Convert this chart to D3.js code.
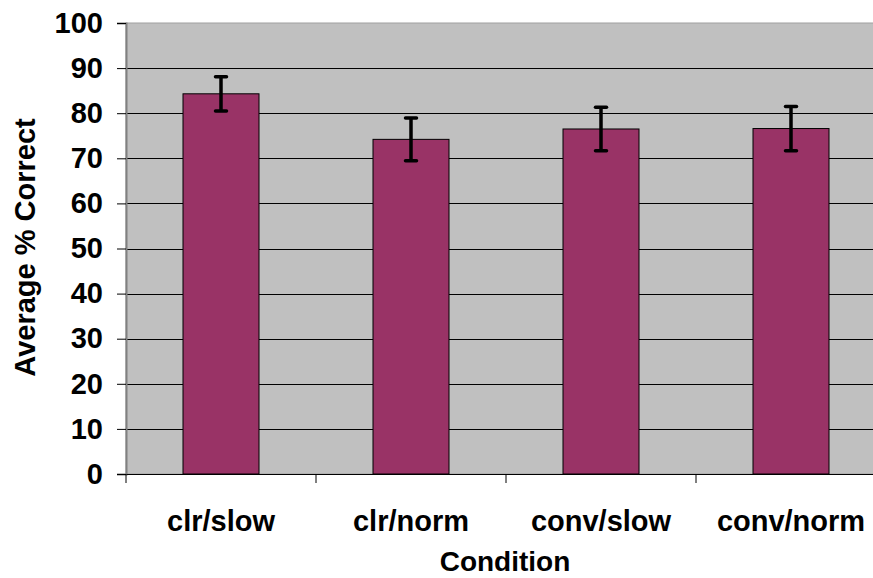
<!DOCTYPE html>
<html><head><meta charset="utf-8">
<script src="https://cdn.jsdelivr.net/npm/d3@7"></script>
<style>body{margin:0;background:#fff}svg{display:block}</style>
</head><body>
<svg id="c" width="873" height="578"></svg>
<script>
const categories = ["clr/slow", "clr/norm", "conv/slow", "conv/norm"];
const values = [84.3, 74.2, 76.5, 76.6];
const errors = [3.8, 4.75, 4.8, 4.9];
const yTicks = [0,10,20,30,40,50,60,70,80,90,100];

const svg = d3.select("#c");
const m = {left:126, right:886, top:23, bottom:474};
const x = d3.scaleBand().domain(categories).range([m.left, m.right]).paddingInner(0).paddingOuter(0);
const y = d3.scaleLinear().domain([0,100]).range([m.bottom, m.top]);
const font = "'Liberation Sans', Arial, sans-serif";
const fs = 29;

svg.append("rect").attr("x", m.left).attr("y", m.top).attr("width", m.right-m.left).attr("height", m.bottom-m.top)
  .attr("fill", "#c0c0c0").attr("stroke", "#a0a0a0").attr("stroke-width", 1);

// gridlines
svg.append("g").selectAll("line").data(yTicks.filter(d=>d>0 && d<100)).join("line")
  .attr("x1", m.left).attr("x2", m.right).attr("y1", d=>Math.round(y(d))+0.5).attr("y2", d=>Math.round(y(d))+0.5)
  .attr("stroke", "#000").attr("stroke-width", 1);

// y axis
const ya = svg.append("g").attr("transform", `translate(${m.left},0)`)
  .call(d3.axisLeft(y).tickValues(yTicks).tickSize(9).tickPadding(14));
ya.select(".domain").attr("stroke", "#808080").attr("stroke-width", 2);
ya.selectAll(".tick line").attr("stroke", "#000");
ya.selectAll("text").attr("font-family", font).attr("font-weight", "bold").attr("font-size", fs).attr("fill", "#000");

// x axis
const xa = svg.append("g").attr("transform", `translate(0,${m.bottom})`)
  .call(d3.axisBottom(x).tickSize(0).tickPadding(36));
xa.select(".domain").attr("stroke", "#000").attr("stroke-width", 1);
xa.selectAll("text").attr("font-family", font).attr("font-weight", "bold").attr("font-size", fs).attr("fill", "#000");
// category boundary ticks
svg.append("g").selectAll("line").data(d3.range(categories.length+1)).join("line")
  .attr("x1", i=>m.left + i*x.bandwidth()).attr("x2", i=>m.left + i*x.bandwidth())
  .attr("y1", m.bottom).attr("y2", m.bottom+9).attr("stroke", "#000").attr("stroke-width", 1);

// bars
const bw = x.bandwidth()*0.4;
svg.append("g").selectAll("rect").data(categories).join("rect")
  .attr("x", (d)=>x(d)+x.bandwidth()/2-bw/2).attr("width", bw)
  .attr("y", (d,i)=>y(values[i])).attr("height", (d,i)=>m.bottom - y(values[i]))
  .attr("fill", "#993366").attr("stroke", "#000").attr("stroke-width", 1);

// error bars
const eg = svg.append("g").attr("stroke", "#000").attr("stroke-width", 3.5);
categories.forEach((c,i)=>{
  const cx = x(c)+x.bandwidth()/2;
  eg.append("line").attr("x1", cx).attr("x2", cx).attr("y1", y(values[i]+errors[i])).attr("y2", y(values[i]-errors[i]));
  [values[i]+errors[i], values[i]-errors[i]].forEach(v=>{
    eg.append("line").attr("x1", cx-5.5).attr("x2", cx+5.5).attr("y1", y(v)).attr("y2", y(v)).attr("stroke-linecap","round");
  });
});

// axis titles
svg.append("text").attr("x", 505).attr("y", 571).attr("text-anchor", "middle")
  .attr("font-family", font).attr("font-weight", "bold").attr("font-size", 28).text("Condition");
svg.append("text").attr("transform", `translate(35,${(m.top+m.bottom)/2 - 1}) rotate(-90)`).attr("text-anchor", "middle")
  .attr("font-family", font).attr("font-weight", "bold").attr("font-size", fs).text("Average % Correct");
</script>
</body></html>
